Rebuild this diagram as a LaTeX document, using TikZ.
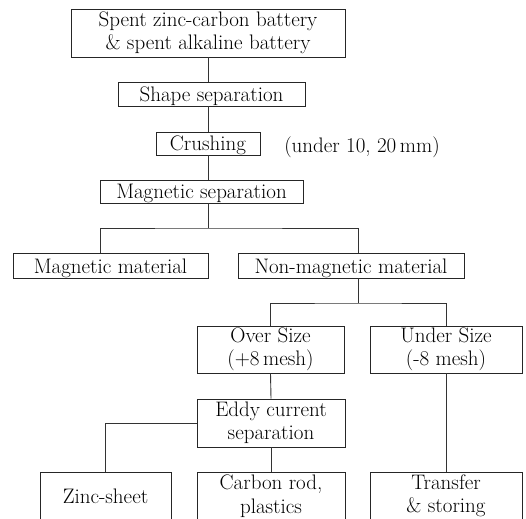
\documentclass[tikz,border=0pt]{standalone}
\usepackage{tikz}
\usetikzlibrary{positioning}

\begin{document}
\begin{tikzpicture}[x=1pt,y=1pt,
    font=\fontsize{21}{23.5}\selectfont,
    every node/.style={inner sep=0pt},
    Box/.style={draw=black!85, line width=0.9pt, align=center, minimum height=24pt},
    OneLine/.style={Box, text height=17pt, text depth=2pt},
    Link/.style={draw=black!80, line width=0.9pt}]
  \clip (0,0) rectangle (526,-518);

  % process chain
  \node[Box, minimum width=274, minimum height=48] (spent) at (208,-33)
    {Spent zinc-carbon battery\\ \& spent alkaline battery};
  \node[OneLine, minimum width=187] (shape) at (211.5,-94) {Shape separation};
  \node[OneLine, minimum width=104, minimum height=23] (crush) at (208,-143.5) {Crushing};
  \node[text height=17pt, text depth=2pt] (size) at (362,-145) {(under 10, 20\,mm)};
  \node[OneLine, minimum width=203, minimum height=23] (magsep) at (201.5,-191.5) {Magnetic separation};

  \node[OneLine, minimum width=195, minimum height=25] (magmat) at (110.5,-265.5) {Magnetic material};
  \node[OneLine, minimum width=226, minimum height=25] (nonmag) at (351,-265.5) {Non-magnetic material};

  \node[Box, minimum width=147, minimum height=47] (over) at (270.5,-349.5) {Over Size\\(+8\,mesh)};
  \node[Box, minimum width=152, minimum height=47] (under) at (446,-349.5) {Under Size\\(-8 mesh)};
  \node[Box, minimum width=148, minimum height=48] (eddy) at (271,-423) {Eddy current\\separation};

  \node[OneLine, minimum width=131, minimum height=48] (zinc) at (105.5,-496) {Zinc-sheet};
  \node[Box, minimum width=148, minimum height=48] (carbon) at (271,-496) {Carbon rod,\\plastics};
  \node[Box, minimum width=152, minimum height=48] (transfer) at (446,-496) {Transfer\\\& storing};

  \coordinate (b1) at (208,-228);
  \coordinate (b2) at (358,-303);

  \draw[Link] (spent.south -| crush) -- (spent.south |- shape.north);
  \draw[Link] (shape.south -| crush) -- (crush.north);
  \draw[Link] (crush.south) -- (crush.south |- magsep.north);
  \draw[Link] (magsep.south -| b1) -- (b1);
  \draw[Link] ([xshift=-10.5]magmat.north) |- (b1) -| ([xshift=7]nonmag.north);
  \draw[Link] ([xshift=7]nonmag.south) -- (b2);
  \draw[Link] (over.north) |- (b2) -| (under.north);
  \draw[Link] (over.south) -- (eddy.north);
  \draw[Link] (eddy.west) -| (zinc.north);
  \draw[Link] (eddy.south) -- (carbon.north);
  \draw[Link] (under.south) -- (transfer.north);
\end{tikzpicture}
\end{document}
